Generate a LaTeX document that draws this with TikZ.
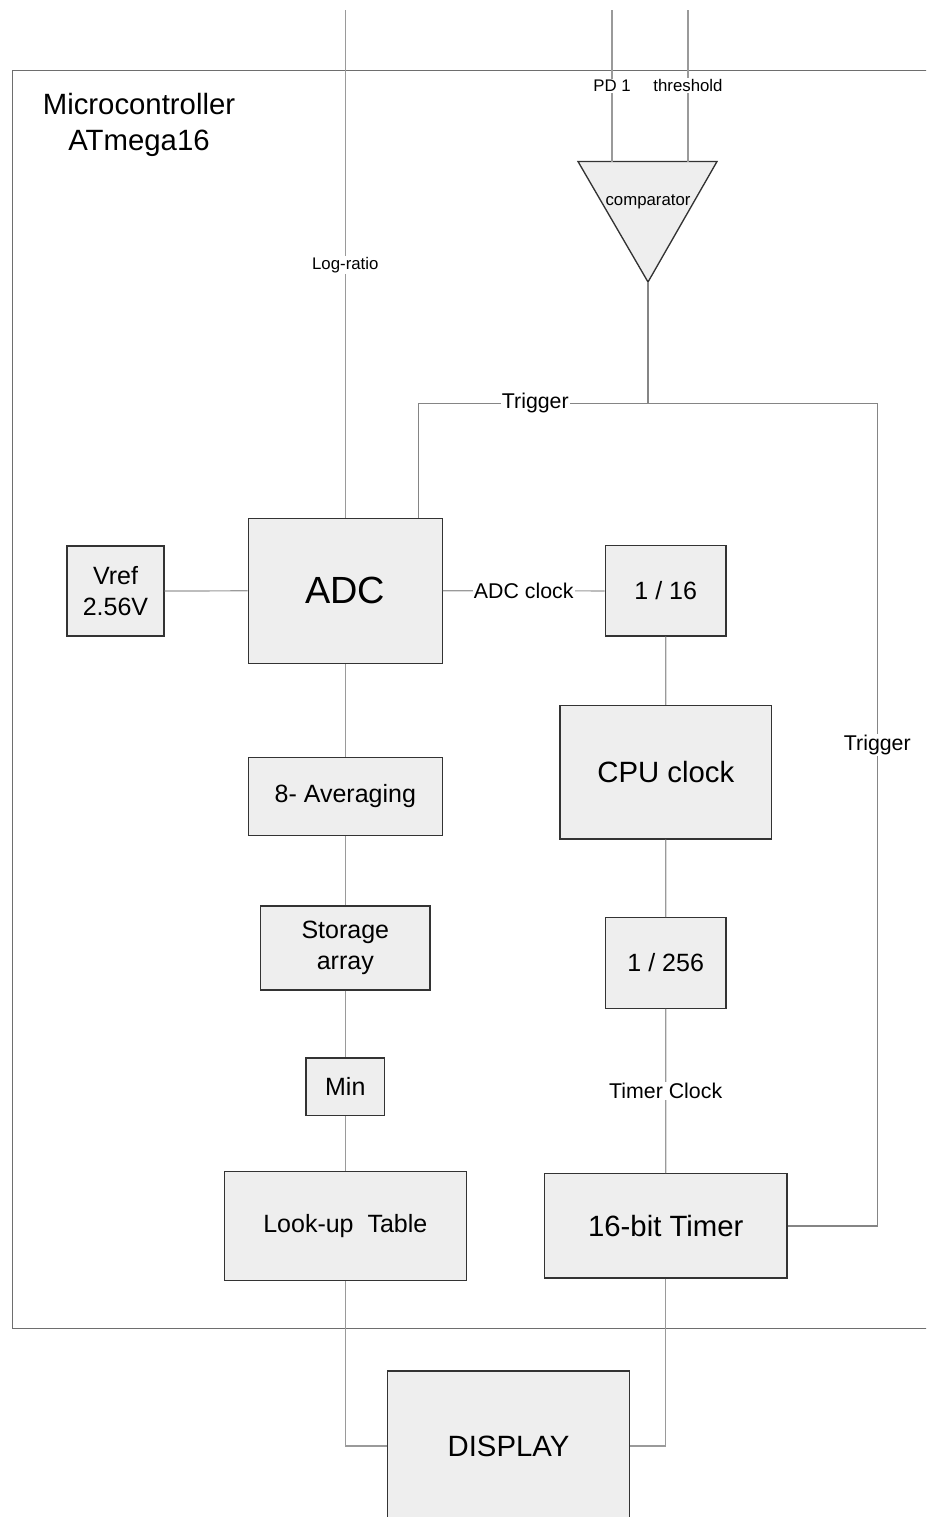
\documentclass[tikz,border=0pt]{standalone}
\usepackage{fontspec}
\setmainfont{Liberation Sans}
\definecolor{wirec}{HTML}{9A9A9A}
\definecolor{trigc}{HTML}{858585}
\definecolor{boxc}{HTML}{333333}
\definecolor{boxf}{HTML}{EEEEEE}
\definecolor{borderc}{HTML}{6E6E6E}
\begin{document}
\begin{tikzpicture}[x=0.75pt,y=-0.75pt,
  wire/.style={draw=wirec, line width=0.9pt},
  trig/.style={draw=trigc, line width=0.9pt},
  box/.style={draw=boxc, fill=boxf, line width=1pt, inner sep=0pt, align=center, text=black},
  sz/.style 2 args={minimum width=#1*0.75pt, minimum height=#2*0.75pt},
  lbl/.style={fill=white, inner sep=1pt, text=black},
  fbig/.style={font=\fontsize{22}{27.5}\selectfont},
  fadc/.style={font=\fontsize{28.4}{34}\selectfont},
  fmid/.style={font=\fontsize{18.75}{23}\selectfont},
  flab/.style={font=\fontsize{16}{19}\selectfont},
  fsmall/.style={font=\fontsize{12.6}{15}\selectfont}]
\useasboundingbox (0,0) rectangle (926,1517);
\clip (0,0) rectangle (926,1517);

% microcontroller border
\draw[draw=borderc, line width=1.1pt] (940,70.7) -- (12.7,70.7) -- (12.7,1328.7) -- (940,1328.7);
\node[fbig, align=center] (title) at (139,125) {Microcontroller\\ATmega16};

% blocks
\node[box, fmid, sz={97}{90}] (vref) at (115.5,591) {Vref\\2.56V};
\node[box, fadc, sz={194}{145}] (adc) at (345.3,590.8) {ADC};
\node[box, fmid, sz={120.7}{90.3}] (div16) at (665.7,590.9) {1 / 16};
\node[box, fmid, sz={194}{78.4}] (avg) at (345.3,796.5) {8- Averaging};
\node[box, fbig, sz={211.7}{133.3}] (cpu) at (665.8,772.3) {CPU clock};
\node[box, fmid, sz={169.3}{84}] (store) at (345.3,948) {Storage\\array};
\node[box, fmid, sz={120.7}{90.6}] (div256) at (665.7,963) {1 / 256};
\node[box, fmid, sz={78.7}{57.7}] (min) at (345.3,1086.9) {Min};
\node[box, fmid, sz={242}{108.6}] (lut) at (345.3,1226) {Look-up\ \ Table};
\node[box, fbig, sz={242.3}{104.3}] (timer) at (665.8,1225.9) {16-bit Timer};
\node[box, fbig, sz={241.6}{150}] (display) at (508.5,1446) {DISPLAY};

% comparator
\coordinate (cmpL) at (578,161.5);
\coordinate (cmpR) at (717,161.5);
\coordinate (cmpOut) at (648,282);
\coordinate (cmpA) at (612,161.5);
\coordinate (cmpB) at (688,161.5);
\draw[draw=boxc, fill=boxf, line width=1pt, line join=miter] (cmpL) -- (cmpR) -- (cmpOut) -- cycle;
\node[fsmall, inner sep=0pt] (cmp) at (648,202) {comparator};

% inputs
\coordinate (inLog) at (345.3,10);
\coordinate (inPD) at (612,10);
\coordinate (inTh) at (688,10);
\draw[wire] (inLog) -- (adc.north);
\draw[wire] (inPD) -- (cmpA);
\draw[wire] (inTh) -- (cmpB);

% trigger network
\coordinate (tl) at (418.5,403.3);
\coordinate (tr) at (877.3,403.3);
\draw[trig] (cmpOut) -- (cmpOut |- tl);
\draw[trig] (adc.north -| tl) -- (tl) -- (tr) |- (timer.east);

% signal chain
\draw[wire] (vref.east) -- (adc.west);
\draw[wire] (adc.east) -- (div16.west);
\draw[wire] (adc.south) -- (avg.north);
\draw[wire] (avg.south) -- (store.north);
\draw[wire] (store.south) -- (min.north);
\draw[wire] (min.south) -- (lut.north);
\draw[wire] (div16.south) -- (cpu.north);
\draw[wire] (cpu.south) -- (div256.north);
\draw[wire] (div256.south) -- (timer.north);
\draw[wire] (lut.south) |- (display.west);
\draw[wire] (timer.south) |- (display.east);

% labels
\node[lbl, fsmall] (lPD) at (612,85.7) {PD 1};
\node[lbl, fsmall] (lTh) at (688,85.7) {threshold};
\node[lbl, fsmall] (lLog) at (345.3,265) {Log-ratio};
\node[lbl, flab] (lTrig1) at (535.3,403.3) {Trigger};
\node[lbl, flab] (lTrig2) at (877.3,745) {Trigger};
\node[lbl, flab] (lAdcClk) at (523.7,590.8) {ADC clock};
\node[lbl, flab] (lTmrClk) at (665.7,1090.7) {Timer Clock};
\end{tikzpicture}
\end{document}
